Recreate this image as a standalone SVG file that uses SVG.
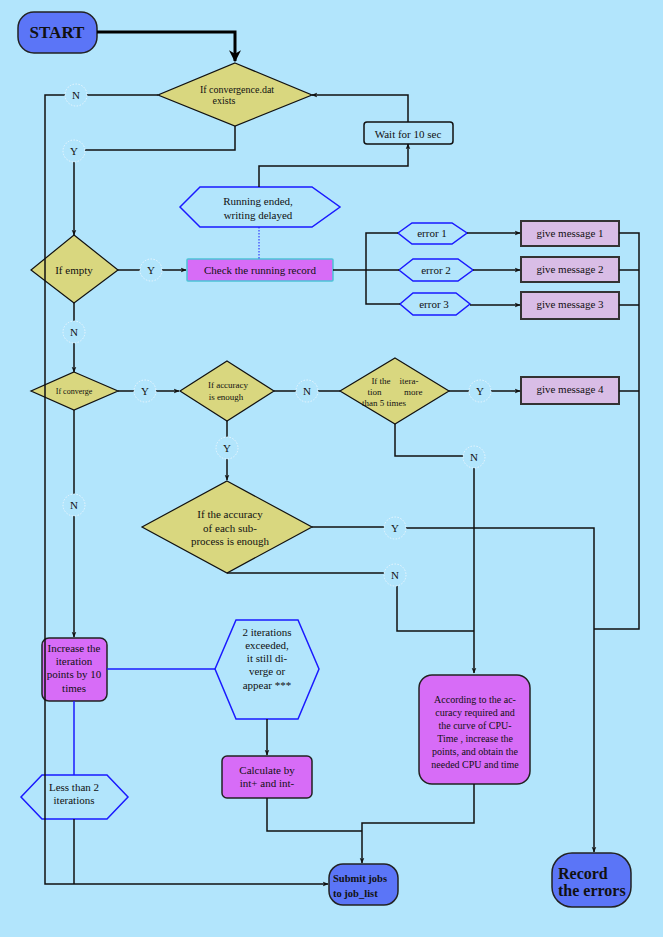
<svg xmlns="http://www.w3.org/2000/svg" width="663" height="937" viewBox="0 0 663 937">
<defs>
<marker id="ah" viewBox="0 0 10 10" refX="9" refY="5" markerWidth="6" markerHeight="6" orient="auto" markerUnits="userSpaceOnUse"><path d="M0,1 L10,5 L0,9 L3,5 Z" fill="#111"/></marker>
<marker id="ahb" viewBox="0 0 10 10" refX="9" refY="5" markerWidth="12" markerHeight="12" orient="auto" markerUnits="userSpaceOnUse"><path d="M0,0 L10,5 L0,10 L3,5 Z" fill="#000"/></marker>
<style>
text{font-family:"Liberation Serif","Times New Roman",serif;fill:#111;text-anchor:middle}
.dia{fill:#D9D77F;stroke:#111;stroke-width:1.2}
.hex{fill:none;stroke:#1a1aff;stroke-width:1.5}
.mag{fill:#D76CF7;stroke:#222;stroke-width:1.5}
.lav{fill:#D9BDE6;stroke:#333;stroke-width:2}
.blu{fill:#5B75F7;stroke:#222;stroke-width:1.5}
.yn{fill:#B2E5FC;stroke:#eaf7ff;stroke-width:1;stroke-dasharray:1.5 1.5}
.c{fill:none;stroke:#111;stroke-width:1.5}
.cb{fill:none;stroke:#1a1aff;stroke-width:1.5}
.f11{font-size:11px}
.f10{font-size:10px}
.bold{font-weight:bold}
</style>
</defs>
<rect x="0" y="0" width="663" height="937" fill="#B2E5FC"/>

<g id="start"><rect class="blu" x="18" y="12" width="79" height="41" rx="16"/><text x="57" y="38" class="bold" style="font-size:17px">START</text></g>

<g id="d_conv"><polygon class="dia" points="235,63 312,95 235,126 158,95"/><text class="f10" x="237" y="93">If convergence.dat</text><text class="f10" x="224" y="104">exists</text></g>

<g id="wait"><rect x="364" y="122" width="89" height="22" rx="3" fill="none" stroke="#111" stroke-width="1.5"/><text class="f11" x="408" y="138">Wait  for 10 sec</text></g>

<g id="running"><polygon class="hex" points="180,207 200,187 312,187 340,207 312,227 200,227"/><text class="f11" x="258" y="205">Running ended,</text><text class="f11" x="258" y="219">writing delayed</text></g>

<g id="d_empty"><polygon class="dia" points="74,235 118,270 74,303 31,270"/><text class="f11" x="74" y="274">If empty</text></g>

<g id="check"><rect x="187" y="259" width="146" height="22" fill="#D76CF7" stroke="#4cc4d6" stroke-width="1.5" rx="1"/><text class="f11" x="260" y="274">Check the running record</text></g>

<g id="err1"><polygon class="hex" points="398,233 412,223 452,223 467,233 452,244 412,244"/><text class="f11" x="432" y="237">error 1</text></g>
<g id="err2"><polygon class="hex" points="399,270 413,259 458,259 473,270 458,281 413,281"/><text class="f11" x="436" y="274">error 2</text></g>
<g id="err3"><polygon class="hex" points="400,304 413,293 456,293 470,304 456,315 413,315"/><text class="f11" x="434" y="308">error 3</text></g>

<g id="msg1"><rect class="lav" x="521" y="221" width="98" height="25"/><text class="f11" x="570" y="237">give message 1</text></g>
<g id="msg2"><rect class="lav" x="521" y="257" width="98" height="25"/><text class="f11" x="570" y="273">give message 2</text></g>
<g id="msg3"><rect class="lav" x="521" y="292" width="98" height="27"/><text class="f11" x="570" y="308">give message 3</text></g>
<g id="msg4"><rect class="lav" x="521" y="377" width="98" height="27"/><text class="f11" x="570" y="393">give message 4</text></g>

<g id="d_converge"><polygon class="dia" points="74,372 118,391 74,410 31,391"/><text x="74" y="394" style="font-size:8px">If converge</text></g>

<g id="d_acc"><polygon class="dia" points="227,361 274,391 227,421 180,391"/><text x="228" y="388" style="font-size:9px">If accuracy</text><text x="226" y="400" style="font-size:9px">is enough</text></g>

<g id="d_iter"><polygon class="dia" points="395,358 449,391 395,424 340,391"/><text x="395" y="384" style="font-size:9px" xml:space="preserve">If the    itera-</text><text x="395" y="395" style="font-size:9px" xml:space="preserve">tion          more</text><text x="384" y="406" style="font-size:9px">than 5 times</text></g>

<g id="d_each"><polygon class="dia" points="227,481 312,527 227,573 142,527"/><text class="f11" x="230" y="518">If the accuracy</text><text class="f11" x="230" y="532">of each sub-</text><text class="f11" x="230" y="545">process is enough</text></g>

<g id="increase"><rect class="mag" x="42" y="638" width="65" height="63" rx="7"/><text class="f11" x="74" y="652">Increase the</text><text class="f11" x="74" y="665">iteration</text><text class="f11" x="74" y="678">points by 10</text><text class="f11" x="74" y="692">times</text></g>

<g id="exceeded"><polygon class="hex" points="215,669 236,620 298,620 319,669 298,719 236,719"/><text class="f11" x="267" y="636">2 iterations</text><text class="f11" x="267" y="649">exceeded,</text><text class="f11" x="267" y="662">it still di-</text><text class="f11" x="267" y="675">verge or</text><text class="f11" x="267" y="689">appear ***</text></g>

<g id="calc"><rect class="mag" x="222" y="756" width="90" height="42" rx="5"/><text class="f11" x="267" y="774">Calculate by</text><text class="f11" x="267" y="787">int+ and int-</text></g>

<g id="less"><polygon class="hex" points="21,797 42,775 107,775 128,797 107,819 42,819"/><text class="f11" x="74" y="791">Less than 2</text><text class="f11" x="74" y="804">iterations</text></g>

<g id="according"><rect class="mag" x="419" y="675" width="111" height="109" rx="13"/><text class="f10" x="475" y="703">According to the ac-</text><text class="f10" x="475" y="716">curacy required and</text><text class="f10" x="475" y="729">the curve of CPU-</text><text class="f10" x="475" y="742">Time , increase the</text><text class="f10" x="475" y="755">points, and obtain the</text><text class="f10" x="475" y="768">needed CPU and time</text></g>

<g id="submit"><rect class="blu" x="329" y="864" width="69" height="41" rx="14"/><text x="333" y="882" class="bold" style="font-size:10.5px;text-anchor:start">Submit  jobs</text><text x="333" y="897" class="bold" style="font-size:10.5px;text-anchor:start">to job_list</text></g>

<g id="record"><rect class="blu" x="552" y="853" width="79" height="54" rx="20"/><text x="558" y="879" class="bold" style="font-size:16px;text-anchor:start">Record</text><text x="558" y="896" class="bold" style="font-size:16px;text-anchor:start">the errors</text></g>

<g id="connectors">
<path d="M97,32 H235 V61" fill="none" stroke="#000" stroke-width="3" marker-end="url(#ahb)"/>
<path class="c" d="M158,95 H87"/>
<path class="c" d="M65,95 H45 V884 H328" marker-end="url(#ah)"/>
<path class="c" d="M235,126 V150 H85"/>
<path class="c" d="M74,162 V235" marker-end="url(#ah)"/>
<path class="c" d="M408,122 V95 H312" marker-end="url(#ah)"/>
<path class="c" d="M259,187 V166 H408 V144" marker-end="url(#ah)"/>
<path d="M259,227 V259" fill="none" stroke="#1a1aff" stroke-width="1" stroke-dasharray="1.5 1.5"/>
<path class="c" d="M118,270 H140"/>
<path class="c" d="M162,270 H186" marker-end="url(#ah)"/>
<path class="c" d="M333,270 H399"/>
<path class="c" d="M398,233 H366 V304 H400"/>
<path class="c" d="M467,233 H520" marker-end="url(#ah)"/>
<path class="c" d="M473,270 H520" marker-end="url(#ah)"/>
<path class="c" d="M470,305 H520" marker-end="url(#ah)"/>
<path class="c" d="M619,233 H639 V629 H594"/>
<path class="c" d="M619,270 H639 M619,305 H639 M619,391 H639"/>
<path class="c" d="M74,303 V321"/>
<path class="c" d="M74,343 V372" marker-end="url(#ah)"/>
<path class="c" d="M118,391 H134"/>
<path class="c" d="M156,391 H179" marker-end="url(#ah)"/>
<path class="c" d="M274,391 H296 M318,391 H340"/>
<path class="c" d="M449,391 H469"/>
<path class="c" d="M491,391 H520" marker-end="url(#ah)"/>
<path class="c" d="M395,424 V456 H463"/>
<path class="c" d="M474,468 V673" marker-end="url(#ah)"/>
<path class="c" d="M227,421 V437"/>
<path class="c" d="M227,459 V480" marker-end="url(#ah)"/>
<path class="c" d="M312,527 H384"/>
<path class="c" d="M406,528 H594 V852" marker-end="url(#ah)"/>
<path class="c" d="M227,573 H384"/>
<path class="c" d="M397,586 V631 H474"/>
<path class="c" d="M74,410 V494"/>
<path class="c" d="M74,516 V637" marker-end="url(#ah)"/>
<path class="cb" d="M107,669 H215"/>
<path class="cb" d="M74,701 V775"/>
<path class="c" d="M74,819 V884"/>
<path class="c" d="M267,719 V755" marker-end="url(#ah)"/>
<path class="c" d="M267,798 V831 H362"/>
<path class="c" d="M474,784 V823 H362 V863" marker-end="url(#ah)"/>
</g>

<g id="labels">
<circle class="yn" cx="76" cy="95" r="11"/><text class="f11" x="76" y="99">N</text>
<circle class="yn" cx="74" cy="151" r="11"/><text class="f11" x="74" y="155">Y</text>
<circle class="yn" cx="151" cy="270" r="11"/><text class="f11" x="151" y="274">Y</text>
<circle class="yn" cx="74" cy="332" r="11"/><text class="f11" x="74" y="336">N</text>
<circle class="yn" cx="145" cy="391" r="11"/><text class="f11" x="145" y="395">Y</text>
<circle class="yn" cx="307" cy="391" r="11"/><text class="f11" x="307" y="395">N</text>
<circle class="yn" cx="480" cy="391" r="11"/><text class="f11" x="480" y="395">Y</text>
<circle class="yn" cx="227" cy="448" r="11"/><text class="f11" x="227" y="452">Y</text>
<circle class="yn" cx="474" cy="457" r="11"/><text class="f11" x="474" y="461">N</text>
<circle class="yn" cx="395" cy="528" r="11"/><text class="f11" x="395" y="532">Y</text>
<circle class="yn" cx="395" cy="575" r="11"/><text class="f11" x="395" y="579">N</text>
<circle class="yn" cx="74" cy="505" r="11"/><text class="f11" x="74" y="509">N</text>
</g>
</svg>
